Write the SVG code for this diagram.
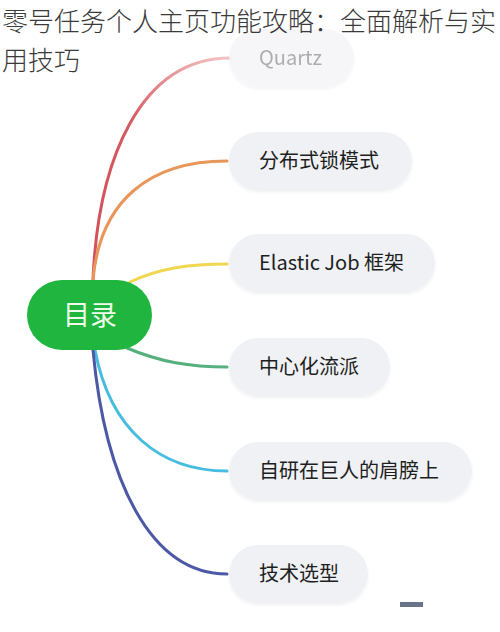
<svg xmlns="http://www.w3.org/2000/svg" width="500" height="632" viewBox="0 0 500 632">
<style>
.title{font-family:"Noto Sans CJK SC","Noto Sans",sans-serif;font-size:26px;fill:#3a3a3a;font-weight:300}
.pill{fill:#eff1f4}
.lbl{font-family:"Noto Sans CJK SC","Noto Sans",sans-serif;font-size:20px;fill:#1e1e1e}
.conn{fill:none;stroke-width:3;stroke-linecap:round}
</style>
<defs>
<linearGradient id="redfade" gradientUnits="userSpaceOnUse" x1="93" y1="280" x2="230" y2="58">
<stop offset="0" stop-color="#d0505a"/>
<stop offset="0.6" stop-color="#d65a62"/>
<stop offset="1" stop-color="#f4c4c4"/>
</linearGradient>
<filter id="sh" x="-10%" y="-20%" width="120%" height="150%">
<feDropShadow dx="0" dy="2" stdDeviation="1.5" flood-color="#000" flood-opacity="0.06"/>
</filter>
</defs>
<rect width="500" height="632" fill="#ffffff"/>
<g id="connectors">
<path class="conn" stroke="url(#redfade)" d="M93,280 C98,160 140,58 230,58"/>
<path class="conn" stroke="#e8965a" d="M93,280 C100,200 150,161 227,161"/>
<path class="conn" stroke="#f0d750" d="M130,282 C160,268 190,264 227,264"/>
<path class="conn" stroke="#55b07e" d="M127,348 C160,362 190,367 227,367"/>
<path class="conn" stroke="#46bde0" d="M95,350 C110,430 160,471 227,471"/>
<path class="conn" stroke="#4d58a6" d="M93,350 C105,480 150,574 227,574"/>
</g>
<g id="node-quartz" opacity="0.8">
<rect class="pill" x="229" y="29" width="125" height="58" rx="29" filter="url(#sh)" style="fill:#f4f5f7"/>
<text class="lbl" x="259" y="65" style="fill:#999999">Quartz</text>
</g>
<g id="node-lock">
<rect class="pill" x="229" y="132" width="183" height="58" rx="29" filter="url(#sh)"/>
<text class="lbl" x="259" y="168">分布式锁模式</text>
</g>
<g id="node-elastic">
<rect class="pill" x="229" y="234" width="206" height="58" rx="29" filter="url(#sh)"/>
<text class="lbl" x="259" y="270">Elastic Job 框架</text>
</g>
<g id="node-center">
<rect class="pill" x="229" y="338" width="161" height="58" rx="29" filter="url(#sh)"/>
<text class="lbl" x="259" y="374">中心化流派</text>
</g>
<g id="node-giant">
<rect class="pill" x="229" y="442" width="243" height="58" rx="29" filter="url(#sh)"/>
<text class="lbl" x="259" y="478">自研在巨人的肩膀上</text>
</g>
<g id="node-tech">
<rect class="pill" x="229" y="545" width="139" height="58" rx="29" filter="url(#sh)"/>
<text class="lbl" x="259" y="581">技术选型</text>
</g>
<g id="node-root">
<rect x="27" y="280" width="125" height="70" rx="35" fill="#1fb53e"/>
<text x="90" y="325" text-anchor="middle" font-family="Noto Sans CJK SC, Noto Sans, sans-serif" font-size="27" fill="#eefbe8">目录</text>
</g>
<g id="title">
<text class="title" x="2" y="31">零号任务个人主页功能攻略：全面解析与实</text>
<text class="title" x="2" y="70">用技巧</text>
</g>
<rect x="400" y="602" width="23" height="5" fill="#6a7488"/>
</svg>
